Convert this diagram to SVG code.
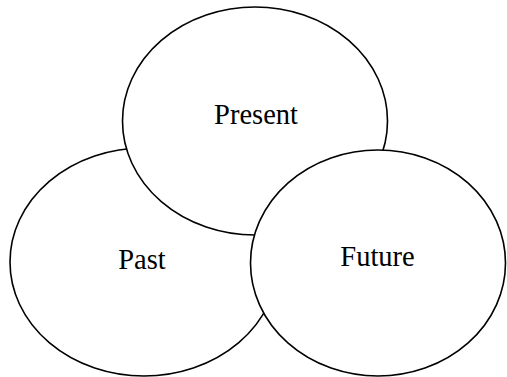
<svg xmlns="http://www.w3.org/2000/svg" width="507" height="377" viewBox="0 0 507 377">
<style>
.node ellipse{fill:#fff;stroke:#000;stroke-width:1.6}
.node text{font-family:"Liberation Serif","Times New Roman",serif;font-size:28.5px;fill:#000;text-anchor:middle}
</style>
<rect width="507" height="377" fill="#fff"/>
<g id="connectors"></g>
<g id="past" class="node">
<ellipse cx="144" cy="262" rx="134" ry="114"/>
<text x="142" y="268.5">Past</text>
</g>
<g id="present" class="node">
<ellipse cx="255" cy="121" rx="132.5" ry="114"/>
<text x="256" y="124">Present</text>
</g>
<g id="future" class="node">
<ellipse cx="378" cy="263" rx="127.5" ry="113"/>
<text x="377.5" y="265.5">Future</text>
</g>
</svg>
